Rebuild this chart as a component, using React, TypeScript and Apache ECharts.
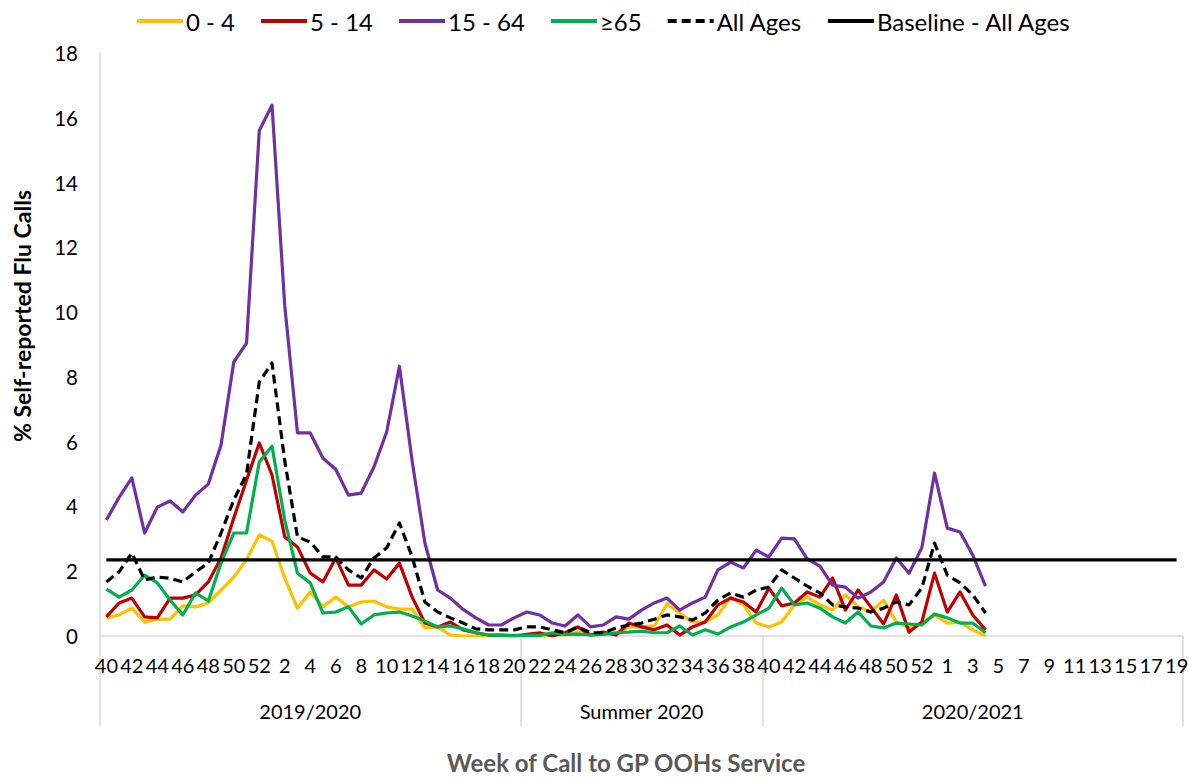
import React, { useEffect, useRef } from "react";
import * as echarts from "echarts";

const weeks: string[] = [
  "40","41","42","43","44","45","46","47","48","49","50","51","52",
  "1","2","3","4","5","6","7","8","9","10","11","12","13","14","15","16","17","18","19","20",
  "21","22","23","24","25","26","27","28","29","30","31","32","33","34","35","36","37","38","39",
  "40","41","42","43","44","45","46","47","48","49","50","51","52","53",
  "1","2","3","4","5","6","7","8","9","10","11","12","13","14","15","16","17","18","19",
];

const groupNames: string[] = ["2019/2020", "Summer 2020", "2020/2021"];
const groupSizes: number[] = [33, 19, 33];

const age0to4: number[] = [
  0.56,0.65,0.86,0.43,0.52,0.52,0.93,0.9,1.02,1.42,
  1.82,2.35,3.12,2.93,1.79,0.86,1.36,0.9,1.2,0.9,
  1.05,1.08,0.9,0.83,0.83,0.25,0.28,0.03,0,0,
  0,0,0,0,0,0.05,0.03,0.12,0.06,0.05,
  0.05,0.28,0.28,0.31,0.99,0.71,0.43,0.43,0.65,1.2,
  0.96,0.4,0.28,0.43,0.96,1.2,0.96,0.8,1.27,0.9,
  0.74,1.11,0.43,0.25,0.4,0.65,0.4,0.43,0.19,0.0,
];

const age5to14: number[] = [
  0.59,1.02,1.17,0.59,0.56,1.17,1.17,1.27,1.67,2.41,
  3.64,4.81,5.96,4.97,3.06,2.75,1.94,1.67,2.41,1.57,
  1.57,2.04,1.76,2.25,1.2,0.4,0.28,0.43,0.19,0.1,
  0.03,0.03,0,0.05,0.1,0,0.1,0.28,0.03,0.12,
  0.03,0.4,0.28,0.19,0.34,0.03,0.28,0.43,0.96,1.17,
  1.05,0.74,1.48,0.93,1.02,1.36,1.2,1.79,0.8,1.42,
  0.9,0.37,1.27,0.12,0.43,1.94,0.74,1.36,0.65,0.19,
];

const age15to64: number[] = [
  3.58,4.28,4.88,3.18,3.98,4.17,3.83,4.35,4.69,5.9,
  8.46,9.04,15.6,16.39,10.2,6.27,6.27,5.49,5.15,4.35,
  4.41,5.22,6.3,8.33,5.4,2.87,1.42,1.17,0.82,0.56,
  0.34,0.34,0.56,0.74,0.65,0.4,0.31,0.65,0.28,0.34,
  0.59,0.52,0.8,1.02,1.17,0.8,1.02,1.2,2.04,2.28,
  2.1,2.65,2.44,3.02,3.0,2.38,2.16,1.57,1.51,1.17,
  1.36,1.67,2.41,1.94,2.72,5.03,3.33,3.21,2.5,1.54,
];

const age65plus: number[] = [
  1.45,1.2,1.42,1.88,1.64,1.11,0.65,1.33,1.08,2.25,
  3.18,3.18,5.37,5.86,3.58,1.94,1.64,0.71,0.74,0.9,
  0.37,0.65,0.71,0.74,0.62,0.46,0.28,0.31,0.22,0.1,
  0.03,0.02,0.02,0.02,0.02,0.1,0.05,0.06,0.03,0.05,
  0.1,0.12,0.15,0.1,0.1,0.31,0.03,0.19,0.06,0.28,
  0.43,0.65,0.86,1.48,0.96,1.02,0.86,0.59,0.4,0.74,
  0.31,0.25,0.4,0.37,0.34,0.68,0.56,0.4,0.4,0.1,
];

const allAges: number[] = [
  1.67,1.98,2.56,1.73,1.82,1.78,1.67,1.98,2.25,3.18,
  4.2,5.0,7.84,8.43,5.4,3.06,2.9,2.44,2.44,2.04,
  1.79,2.41,2.72,3.49,2.44,1.05,0.74,0.56,0.4,0.22,
  0.19,0.19,0.19,0.28,0.28,0.19,0.1,0.28,0.1,0.1,
  0.25,0.34,0.4,0.52,0.65,0.59,0.49,0.71,1.11,1.33,
  1.2,1.42,1.51,2.04,1.79,1.54,1.33,0.96,0.9,0.86,
  0.74,0.86,1.05,0.96,1.48,2.87,1.88,1.64,1.27,0.71,
];

const baselineAllAges = 2.35;

const yTicks = { min: 0, max: 18, interval: 2 };

const FONT = "Lato, 'Liberation Sans', sans-serif";

export default function App() {
  const ref = useRef<HTMLDivElement>(null);

  useEffect(() => {
    if (!ref.current) return;
    const chart = echarts.init(ref.current, undefined, { renderer: "svg" });

    // group axis: label at centre of each group, ticks at group boundaries
    const groupLabels: string[] = weeks.map(() => "");
    const boundaries: number[] = [];
    let start = 0;
    groupNames.forEach((name, gi) => {
      boundaries.push(start);
      groupLabels[start + Math.floor(groupSizes[gi] / 2)] = name;
      start += groupSizes[gi];
    });

    const lineSeries = (name: string, data: number[], color: string, dashed = false) => ({
      name,
      type: "line",
      xAxisIndex: 0,
      data,
      symbol: "none",
      showSymbol: false,
      lineStyle: { color, width: 3.2, type: dashed ? [9, 5] : "solid", join: "round", cap: "butt" },
      itemStyle: { color },
      emphasis: { disabled: true },
    });

    chart.setOption({
      animation: false,
      textStyle: { fontFamily: FONT },
      legend: {
        left: 130,
        top: 4,
        itemWidth: 46,
        itemHeight: 14,
        itemGap: 24,
        itemStyle: { opacity: 0 },
        lineStyle: { width: 4 },
        textStyle: { fontSize: 24, color: "#000", fontFamily: FONT, padding: [0, 0, 0, -2] },
        data: ["0 - 4", "5 - 14", "15 - 64", "≥65", "All Ages", "Baseline - All Ages"],
      },
      grid: { left: 100, right: 6, top: 53, bottom: 142, containLabel: false, outerBoundsMode: "none" },
      xAxis: [
        {
          type: "category",
          data: weeks,
          boundaryGap: true,
          position: "bottom",
          axisLine: { show: true, lineStyle: { color: "#d9d9d9", width: 1.5 } },
          axisTick: { show: false },
          axisLabel: { interval: 1, margin: 19, fontSize: 20, color: "#000", fontFamily: FONT },
          splitLine: { show: false },
        },
        {
          type: "category",
          data: groupLabels,
          boundaryGap: true,
          position: "bottom",
          offset: 0,
          axisLine: { show: false },
          axisTick: {
            show: true,
            length: 90,
            interval: (index: number) => boundaries.includes(index),
            lineStyle: { color: "#d9d9d9", width: 1.5 },
          },
          axisLabel: { interval: 0, margin: 65, fontSize: 20, color: "#000", fontFamily: FONT },
          splitLine: { show: false },
        },
      ],
      yAxis: {
        type: "value",
        min: yTicks.min,
        max: yTicks.max,
        interval: yTicks.interval,
        axisLine: { show: true, lineStyle: { color: "#d9d9d9", width: 1.5 } },
        axisTick: { show: false },
        splitLine: { show: false },
        axisLabel: { margin: 22, fontSize: 20.5, color: "#000", fontFamily: FONT },
      },
      graphic: [
        {
          type: "text",
          x: 22,
          y: 316,
          rotation: Math.PI / 2,
          style: {
            text: "% Self-reported Flu Calls",
            font: `bold 23px ${FONT}`,
            fill: "#000",
            align: "center",
            verticalAlign: "middle",
            textAlign: "center",
            textVerticalAlign: "middle",
          },
        },
        {
          type: "text",
          x: 626,
          y: 762,
          style: {
            text: "Week of Call to GP OOHs Service",
            font: `bold 24px ${FONT}`,
            fill: "#595959",
            align: "center",
            verticalAlign: "middle",
            textAlign: "center",
            textVerticalAlign: "middle",
          },
        },
      ],
      series: [
        lineSeries("0 - 4", age0to4, "#FFC000"),
        lineSeries("5 - 14", age5to14, "#C00000"),
        lineSeries("15 - 64", age15to64, "#7030A0"),
        lineSeries("≥65", age65plus, "#00B050"),
        lineSeries("All Ages", allAges, "#000000", true),
        lineSeries("Baseline - All Ages", weeks.map(() => baselineAllAges), "#000000"),
      ],
    });

    return () => chart.dispose();
  }, []);

  return (
    <div
      ref={ref}
      style={{ position: "absolute", left: 0, top: 0, width: 1189, height: 778, background: "#fff" }}
    />
  );
}
